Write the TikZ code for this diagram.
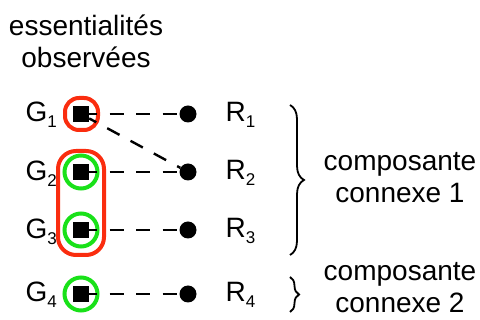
\documentclass[tikz,border=0pt]{standalone}
\usepackage{fontspec}
\setmainfont{Liberation Sans}
\usepackage{xcolor}
\usetikzlibrary{decorations.pathreplacing}
\definecolor{grpred}{RGB}{250,45,15}
\definecolor{essgreen}{RGB}{25,225,25}
\newcommand{\subidx}[1]{\raisebox{-6pt}{\fontsize{17}{17}\selectfont #1}}

\begin{document}
\begin{tikzpicture}[x=1pt,y=1pt,every node/.style={font=\fontsize{28}{32}\selectfont},
  gene/.style={fill=black,minimum size=16pt,inner sep=0pt},
  react/.style={circle,fill=black,minimum size=17pt,inner sep=0pt},
  link/.style={line width=2.4pt,dash pattern=on 14pt off 12.5pt,dash phase=6pt},
  essring/.style={draw=essgreen,line width=4pt},
  grpbox/.style={draw=grpred,line width=4pt},
  bracepath/.style={decorate,line width=1.8pt}]
\useasboundingbox (0,0) rectangle (480,-320);
% title
\node[align=center,anchor=base] (title) at (86,-68) {essentialités\\observées};
% red groups
\draw[grpbox,rounded corners=14pt] (65,-98) rectangle (98,-130);
\draw[grpbox,rounded corners=18pt] (58,-151) rectangle (104,-255);
% green rings
\draw[essring] (81,-172) circle (16.5);
\draw[essring] (81,-230) circle (16.5);
\draw[essring] (81,-294) circle (16.5);
% genes and reactions
\node[gene] (g1) at (81,-114) {};
\node[gene] (g2) at (81,-172) {};
\node[gene] (g3) at (81,-230) {};
\node[gene] (g4) at (81,-294) {};
\node[react] (r1) at (188,-114) {};
\node[react] (r2) at (188,-172) {};
\node[react] (r3) at (188,-230) {};
\node[react] (r4) at (188,-294) {};
\node[anchor=base west] (lg1) at (22,-122) {G\subidx{1}};
\node[anchor=base west] (lg2) at (22,-181) {G\subidx{2}};
\node[anchor=base west] (lg3) at (22,-239) {G\subidx{3}};
\node[anchor=base west] (lg4) at (22,-302) {G\subidx{4}};
\node[anchor=base west] (lr1) at (222,-122) {R\subidx{1}};
\node[anchor=base west] (lr2) at (222,-180) {R\subidx{2}};
\node[anchor=base west] (lr3) at (222,-238) {R\subidx{3}};
\node[anchor=base west] (lr4) at (222,-302) {R\subidx{4}};
% links
\draw[link] (g1) -- (r1);
\draw[link] (g1) -- (r2);
\draw[link] (g2) -- (r2);
\draw[link] (g3) -- (r3);
\draw[link] (g4) -- (r4);
% components
\draw[bracepath,decoration={brace,amplitude=14pt}] (290,-105) -- (290,-255);
\draw[bracepath,decoration={brace,amplitude=9pt}] (290,-277) -- (290,-312);
\node[align=center,anchor=base] (cc1) at (400,-203) {composante\\connexe 1};
\node[align=center,anchor=base] (cc2) at (400,-313) {composante\\connexe 2};
\end{tikzpicture}
\end{document}
